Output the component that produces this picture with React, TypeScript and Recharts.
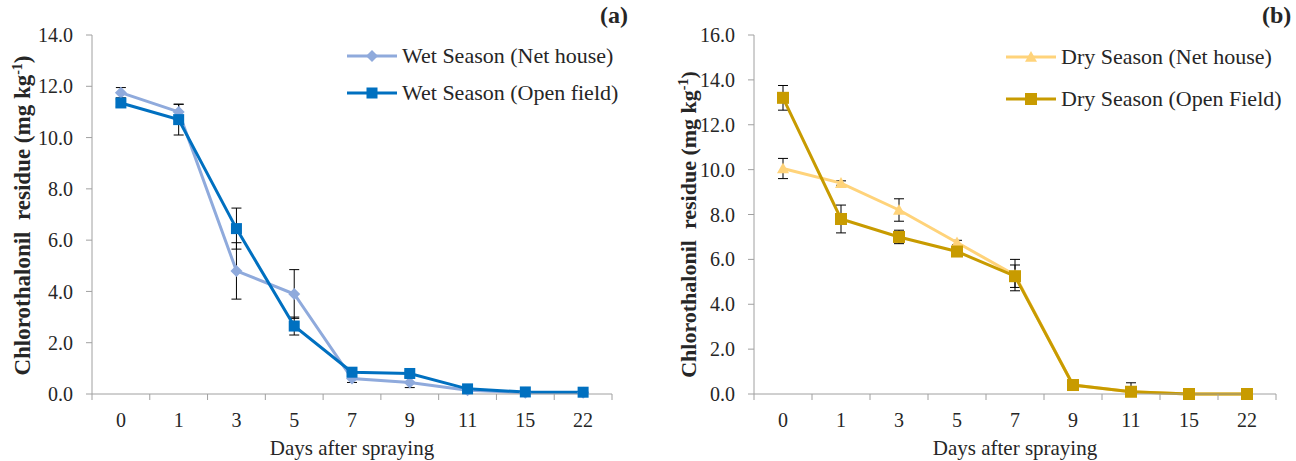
import { LineChart, Line, XAxis, YAxis, ErrorBar, Legend } from 'recharts';

// days after spraying (categorical axis)
const days = ['0', '1', '3', '5', '7', '9', '11', '15', '22'];

// (a) wet season
const wetNetHouse = [11.75, 11.0, 4.8, 3.9, 0.6, 0.45, 0.15, 0.05, 0.05];
const wetNetHouseErr = [0.2, 0.3, 1.1, 0.95, 0.15, 0.2, 0.05, 0.02, 0.02];
const wetOpenField = [11.35, 10.7, 6.45, 2.65, 0.85, 0.8, 0.2, 0.08, 0.07];
const wetOpenFieldErr = [0.15, 0.6, 0.8, 0.35, 0.1, 0.1, 0.05, 0.02, 0.02];
const wetTicks = [0, 2, 4, 6, 8, 10, 12, 14];

// (b) dry season
const dryNetHouse = [10.05, 9.4, 8.2, 6.75, 5.3, 0.4, 0.1, 0.0, 0.0];
const dryNetHouseErr = [0.45, 0.1, 0.5, 0.1, 0.7, 0.05, 0.4, 0, 0];
const dryOpenField = [13.2, 7.8, 7.0, 6.35, 5.25, 0.4, 0.1, 0.0, 0.0];
const dryOpenFieldErr = [0.55, 0.62, 0.3, 0.1, 0.5, 0.05, 0.1, 0, 0];
const dryTicks = [0, 2, 4, 6, 8, 10, 12, 14, 16];

const FONT = '"Liberation Serif", "Times New Roman", serif';
const TEXT = '#262626';
const AXIS_GREY = '#a0a0a0';

type Shape = 'diamond' | 'square' | 'triangle';

function Marker({ cx, cy, shape, color, size }: { cx: number; cy: number; shape: Shape; color: string; size: number }) {
  const h = size / 2;
  if (shape === 'square') {
    return <rect x={cx - h} y={cy - h} width={size} height={size} fill={color} />;
  }
  if (shape === 'triangle') {
    return <polygon points={`${cx},${cy - h} ${cx + h},${cy + h * 0.8} ${cx - h},${cy + h * 0.8}`} fill={color} />;
  }
  return <polygon points={`${cx},${cy - h} ${cx + h},${cy} ${cx},${cy + h} ${cx - h},${cy}`} fill={color} />;
}

type SeriesStyle = { key: string; name: string; color: string; shape: Shape; size: number };

function PanelLegend({ payload, styles, rowHeight }: any) {
  return (
    <div style={{ fontFamily: FONT, fontSize: 22, color: TEXT }}>
      {(payload || []).map((entry: any) => {
        const st: SeriesStyle = styles.find((s: SeriesStyle) => s.key === entry.dataKey);
        return (
          <div key={entry.dataKey} style={{ display: 'flex', alignItems: 'center', height: rowHeight }}>
            <svg width={50} height={16} style={{ flex: 'none' }}>
              <line x1={0} x2={50} y1={8} y2={8} stroke={st.color} strokeWidth={3} />
              <Marker cx={25} cy={8} shape={st.shape} color={st.color} size={st.size} />
            </svg>
            <span style={{ marginLeft: 5, whiteSpace: 'nowrap' }}>{entry.value}</span>
          </div>
        );
      })}
    </div>
  );
}

function XTitle({ viewBox }: any) {
  return (
    <text x={viewBox.x + viewBox.width / 2} y={viewBox.y + 61} textAnchor="middle" fontFamily={FONT} fontSize={21} fill={TEXT}>
      Days after spraying
    </text>
  );
}

function YTitle({ viewBox, baseX, shiftY, size }: any) {
  const cy = viewBox.y + viewBox.height / 2 + shiftY;
  return (
    <text
      transform={`translate(${viewBox.x + baseX},${cy}) rotate(-90)`}
      textAnchor="middle"
      fontFamily={FONT}
      fontWeight="bold"
      fontSize={size}
      fill={TEXT}
    >
      {'Chlorothalonil\u00a0\u00a0residue (mg kg'}
      <tspan dy={-8} fontSize={14}>-1</tspan>
      <tspan dy={8}>)</tspan>
    </text>
  );
}

type PanelProps = {
  width: number;
  height: number;
  yAxisWidth: number;
  marginRight: number;
  ticks: number[];
  a: number[];
  aErr: number[];
  b: number[];
  bErr: number[];
  styles: SeriesStyle[];
  legendLeft: number;
  legendTop: number;
  legendRow: number;
  titleX: number;
  titleShift: number;
  titleSize: number;
};

// the lower whisker stops at zero, like in the original figure
const whisker = (value: number, err: number) => [Math.min(err, value), err];

function Panel(p: PanelProps) {
  const data = days.map((day, i) => ({
    day,
    [p.styles[0].key]: p.a[i],
    err0: whisker(p.a[i], p.aErr[i]),
    [p.styles[1].key]: p.b[i],
    err1: whisker(p.b[i], p.bErr[i]),
  }));
  const plotW = p.width - p.yAxisWidth - p.marginRight;
  const band = plotW / days.length;

  const renderDayTick = (props: any) => {
    const { x, y, payload, index } = props;
    return (
      <g>
        <line x1={x - band / 2} x2={x - band / 2} y1={y} y2={y + 6} stroke={AXIS_GREY} />
        {index === days.length - 1 && (
          <line x1={x + band / 2} x2={x + band / 2} y1={y} y2={y + 6} stroke={AXIS_GREY} />
        )}
        <text x={x} y={y + 33} textAnchor="middle" fontFamily={FONT} fontSize={20} fill={TEXT}>
          {payload.value}
        </text>
      </g>
    );
  };

  return (
    <LineChart width={p.width} height={p.height} data={data} margin={{ top: 35, right: p.marginRight, bottom: 0, left: 0 }}>
      <XAxis
        dataKey="day"
        interval={0}
        height={67}
        padding={{ left: band / 2, right: band / 2 }}
        tickLine={false}
        tickSize={0}
        tickMargin={0}
        axisLine={{ stroke: AXIS_GREY }}
        tick={renderDayTick}
        label={<XTitle />}
      />
      <YAxis
        width={p.yAxisWidth}
        domain={[0, p.ticks[p.ticks.length - 1]]}
        ticks={p.ticks}
        interval={0}
        tickFormatter={(v: number) => v.toFixed(1)}
        tickSize={6}
        tickMargin={13}
        tickLine={{ stroke: AXIS_GREY }}
        axisLine={{ stroke: AXIS_GREY }}
        tick={{ fontFamily: FONT, fontSize: 20, fill: TEXT }}
        label={<YTitle baseX={p.titleX} shiftY={p.titleShift} size={p.titleSize} />}
      />
      {/* centred/middle so the legend takes no room from the plot; placed by wrapperStyle */}
      <Legend
        layout="vertical"
        verticalAlign="middle"
        align="center"
        wrapperStyle={{ left: p.legendLeft, top: p.legendTop, width: 300 }}
        content={<PanelLegend styles={p.styles} rowHeight={p.legendRow} />}
      />
      {p.styles.map((st, si) => (
        <Line
          key={st.key}
          type="linear"
          dataKey={st.key}
          name={st.name}
          stroke={st.color}
          strokeWidth={3}
          isAnimationActive={false}
          activeDot={false}
          dot={(d: any) => <Marker key={d.index} cx={d.cx} cy={d.cy} shape={st.shape} color={st.color} size={st.size} />}
        >
          <ErrorBar dataKey={si === 0 ? 'err0' : 'err1'} width={5} stroke="#000" strokeWidth={1} direction="y" />
        </Line>
      ))}
    </LineChart>
  );
}

const wetStyles: SeriesStyle[] = [
  { key: 'netHouse', name: 'Wet Season (Net house)', color: '#8FAADC', shape: 'diamond', size: 12 },
  { key: 'openField', name: 'Wet Season (Open field)', color: '#0070C0', shape: 'square', size: 11 },
];

const dryStyles: SeriesStyle[] = [
  { key: 'netHouse', name: 'Dry Season (Net house)', color: '#FFD37A', shape: 'triangle', size: 12 },
  { key: 'openField', name: 'Dry Season (Open Field)', color: '#C89B00', shape: 'square', size: 12 },
];

const panelTag = { position: 'absolute' as const, top: 2, fontFamily: FONT, fontWeight: 'bold' as const, fontSize: 24, color: TEXT };

export default function App() {
  return (
    <div style={{ position: 'absolute', left: 0, top: 0, width: 1296, height: 461, background: '#fff' }}>
      <div style={{ position: 'absolute', left: 0, top: 0 }}>
        <Panel
          width={650}
          height={461}
          yAxisWidth={92}
          marginRight={38}
          ticks={wetTicks}
          a={wetNetHouse}
          aErr={wetNetHouseErr}
          b={wetOpenField}
          bErr={wetOpenFieldErr}
          styles={wetStyles}
          legendLeft={347}
          legendTop={37}
          legendRow={37}
          titleX={30}
          titleShift={1}
          titleSize={23}
        />
      </div>
      <div style={{ position: 'absolute', left: 650, top: 0 }}>
        <Panel
          width={646}
          height={461}
          yAxisWidth={104}
          marginRight={20}
          ticks={dryTicks}
          a={dryNetHouse}
          aErr={dryNetHouseErr}
          b={dryOpenField}
          bErr={dryOpenFieldErr}
          styles={dryStyles}
          legendLeft={356}
          legendTop={36}
          legendRow={42}
          titleX={46}
          titleShift={10}
          titleSize={22}
        />
      </div>
      <div style={{ ...panelTag, left: 600 }}>(a)</div>
      <div style={{ ...panelTag, left: 1262 }}>(b)</div>
    </div>
  );
}
